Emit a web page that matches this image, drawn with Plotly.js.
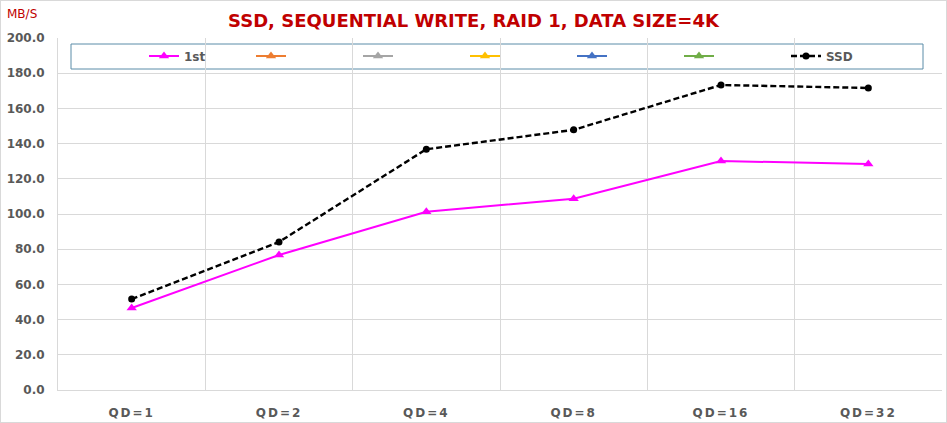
<!DOCTYPE html>
<html>
<head>
<meta charset="utf-8">
<script src="https://cdn.plot.ly/plotly-3.0.1.min.js"></script>
<style>
  html, body { margin: 0; padding: 0; background: #fff; }
  #grafica { width: 945px; height: 421px; border: 1px solid #d9d9d9; }
  .xtick text { letter-spacing: 2px; }
</style>
</head>
<body>
<div id="grafica"></div>
<script>
// categorias y valores
const categorias = ['QD=1', 'QD=2', 'QD=4', 'QD=8', 'QD=16', 'QD=32'];
const serie1st = [46.6, 76.7, 101.3, 108.7, 130.1, 128.4];
const serieSSD = [51.7, 84.1, 136.8, 147.8, 173.3, 171.6];
const vacia = [null, null, null, null, null, null];
const ticksY = [0, 20, 40, 60, 80, 100, 120, 140, 160, 180, 200];

const gris = '#595959';
const rejilla = '#d9d9d9';

const series = [
  { name: '1st', data: serie1st, color: '#ff00ff', symbol: 'triangle-up', dash: 'solid' },
  { name: '', data: vacia, color: '#ed7d31', symbol: 'triangle-up', dash: 'solid' },
  { name: '', data: vacia, color: '#a5a5a5', symbol: 'triangle-up', dash: 'solid' },
  { name: '', data: vacia, color: '#ffc000', symbol: 'triangle-up', dash: 'solid' },
  { name: '', data: vacia, color: '#4472c4', symbol: 'triangle-up', dash: 'solid' },
  { name: '', data: vacia, color: '#70ad47', symbol: 'triangle-up', dash: 'solid' },
  { name: 'SSD', data: serieSSD, color: '#000000', symbol: 'circle', dash: '6px,3px' }
];

const traces = series.map(s => ({
  x: categorias,
  y: s.data,
  type: 'scatter',
  mode: 'lines+markers',
  name: s.name,
  line: { color: s.color, width: s.symbol === 'circle' ? 2.4 : 2, dash: s.dash },
  marker: { color: s.color, symbol: s.symbol, size: s.symbol === 'circle' ? 7 : 9 }
}));

// margenes del area de trazado (px)
const W = 945, H = 421;
const m = { l: 57, r: 4, t: 37, b: 32 };
const pw = W - m.l - m.r, ph = H - m.t - m.b;
const px = v => (v - m.l - 1) / pw;
const py = v => 1 - (v - m.t - 1) / ph;

const layout = {
  width: W, height: H,
  margin: m,
  paper_bgcolor: '#fff', plot_bgcolor: '#fff',
  font: { family: 'Tahoma, "DejaVu Sans", sans-serif', color: gris },
  showlegend: true,
  title: {
    text: 'SSD, SEQUENTIAL WRITE, RAID 1, DATA SIZE=4K',
    font: { size: 18, color: '#c00000', weight: 'bold', family: '"DejaVu Sans", sans-serif' },
    x: 0.5, xanchor: 'center', y: 1 - 20 / H, yanchor: 'middle'
  },
  xaxis: {
    type: 'category',
    tickson: 'boundaries',
    range: [-0.5, 5.5],
    showgrid: true, gridcolor: rejilla, gridwidth: 1,
    showline: true, linecolor: rejilla,
    ticks: '', ticklabelstandoff: 12,
    tickfont: { size: 12, color: gris, weight: 'bold' },
    fixedrange: true
  },
  yaxis: {
    range: [0, 200],
    tickvals: ticksY,
    tickformat: '.1f',
    showgrid: true, gridcolor: rejilla, gridwidth: 1,
    zeroline: false,
    showline: true, linecolor: rejilla,
    ticks: '', ticklabelstandoff: 10,
    tickfont: { size: 12, color: gris, weight: 'bold' },
    fixedrange: true
  },
  legend: {
    orientation: 'h',
    x: px(144), xanchor: 'left',
    y: py(56), yanchor: 'middle',
    bgcolor: 'rgba(0,0,0,0)',
    borderwidth: 0,
    entrywidth: 62, entrywidthmode: 'pixels',
    font: { size: 12, color: gris, weight: 'bold' },
    traceorder: 'normal'
  },
  shapes: [{
    type: 'rect', xref: 'paper', yref: 'paper', layer: 'between',
    x0: px(71), x1: px(923), y0: py(69), y1: py(44),
    fillcolor: '#fff', line: { color: '#5a8ca8', width: 1 }
  }],
  annotations: [{
    text: 'MB/S', xref: 'paper', yref: 'paper',
    x: px(5), y: py(14), xanchor: 'left', yanchor: 'middle',
    showarrow: false, font: { size: 12, color: '#c00000' }
  }]
};

Plotly.newPlot('grafica', traces, layout, { displayModeBar: false, staticPlot: true });
</script>
</body>
</html>
